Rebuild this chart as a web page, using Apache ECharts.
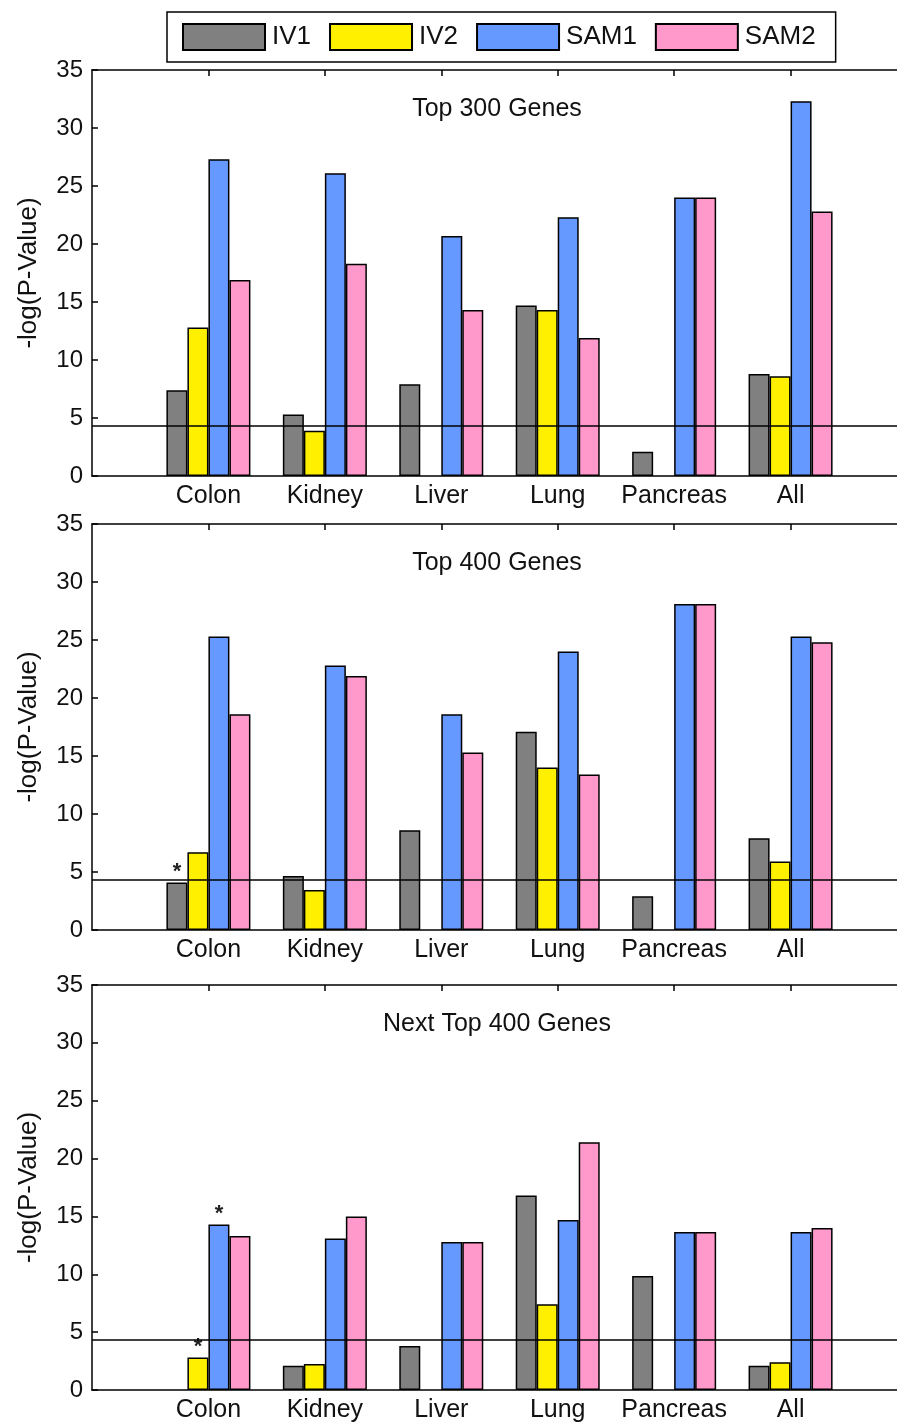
<!DOCTYPE html>
<html>
<head>
<meta charset="utf-8">
<script src="https://cdn.jsdelivr.net/npm/echarts@6/dist/echarts.min.js"></script>
<style>html,body{margin:0;padding:0;background:#fff}#c{width:897px;height:1427px}</style>
</head>
<body>
<div id="c"></div>
<script>
const categories = ['Colon', 'Kidney', 'Liver', 'Lung', 'Pancreas', 'All'];
const seriesNames = ['IV1', 'IV2', 'SAM1', 'SAM2'];
const yTicks = [0, 5, 10, 15, 20, 25, 30, 35];
const threshold = 4.3;
const panelTitles = ['Top 300 Genes', 'Top 400 Genes', 'Next Top 400 Genes'];

// Top 300 Genes
const top300_IV1  = [7.4, 5.3, 7.9, 14.7, 2.1, 8.8];
const top300_IV2  = [12.8, 3.9, 0, 14.3, 0, 8.6];
const top300_SAM1 = [27.3, 26.1, 20.7, 22.3, 24.0, 32.3];
const top300_SAM2 = [16.9, 18.3, 14.3, 11.9, 24.0, 22.8];

// Top 400 Genes
const top400_IV1  = [4.1, 4.65, 8.6, 17.1, 2.9, 7.9];
const top400_IV2  = [6.7, 3.45, 0, 14.0, 0, 5.9];
const top400_SAM1 = [25.3, 22.8, 18.6, 24.0, 28.1, 25.3];
const top400_SAM2 = [18.6, 21.9, 15.3, 13.4, 28.1, 24.8];

// Next Top 400 Genes
const next400_IV1  = [0, 2.1, 3.8, 16.8, 9.85, 2.1];
const next400_IV2  = [2.8, 2.25, 0, 7.4, 0, 2.4];
const next400_SAM1 = [14.3, 13.1, 12.8, 14.7, 13.65, 13.65];
const next400_SAM2 = [13.3, 15.0, 12.8, 21.4, 13.65, 14.0];

// asterisk markers: [panel, series, category]
const starMarks = [[1, 0, 0], [2, 1, 0], [2, 2, 0]];

const colors = ['#808080', '#FFF000', '#6699FF', '#FF99CC'];
const panels = [
  [top300_IV1, top300_IV2, top300_SAM1, top300_SAM2],
  [top400_IV1, top400_IV2, top400_SAM1, top400_SAM2],
  [next400_IV1, next400_IV2, next400_SAM1, next400_SAM2]
];

const FONT = "'Liberation Sans', Arial, sans-serif";
const TXT = '#111';
const axisCats = [''].concat(categories, ['']);
const gridTops = [70, 524, 985];
const gridH = [406, 406, 405];

const grids = [], xAxes = [], yAxes = [], series = [], titles = [];
panels.forEach((panel, p) => {
  grids.push({left: 92, top: gridTops[p], height: gridH[p], width: 815,
    containLabel: false, outerBoundsMode: 'none'});
  xAxes.push({
    type: 'category', gridIndex: p, position: 'bottom', data: axisCats, boundaryGap: false,
    axisLine: {lineStyle: {color: '#000', width: 1.5}},
    axisTick: {show: false},
    axisLabel: {interval: 0, fontFamily: FONT, fontSize: 25, color: TXT, margin: 8},
    splitLine: {show: false}
  });
  xAxes.push({
    type: 'category', gridIndex: p, position: 'top', data: axisCats, boundaryGap: false,
    axisLine: {lineStyle: {color: '#000', width: 1.5}},
    axisTick: {show: true, inside: true, length: 6, lineStyle: {color: '#000', width: 1.5},
      interval: function (i, v) { return v !== ''; }},
    axisLabel: {show: false},
    splitLine: {show: false}
  });
  yAxes.push({
    type: 'value', gridIndex: p, min: 0, max: 35, interval: 5,
    name: '-log(P-Value)', nameLocation: 'middle', nameRotate: 90, nameGap: 50,
    nameTextStyle: {fontFamily: FONT, fontSize: 26, color: TXT},
    axisLine: {show: true, lineStyle: {color: '#000', width: 1.5}},
    axisTick: {show: true, inside: true, length: 6, lineStyle: {color: '#000', width: 1.5}},
    axisLabel: {fontFamily: FONT, fontSize: 24, color: TXT, margin: 9,
      formatter: function (v) { return yTicks.indexOf(v) >= 0 ? String(v) : ''; }},
    splitLine: {show: false}
  });
  titles.push({
    text: panelTitles[p], left: 492, top: gridTops[p] + 22, textAlign: 'center',
    textStyle: {fontFamily: FONT, fontSize: 25, fontWeight: 'normal', color: TXT}
  });
  panel.forEach((vals, s) => {
    const data = [null].concat(vals.map((v, c) => {
      const star = starMarks.some(m => m[0] === p && m[1] === s && m[2] === c);
      if (v === 0) return null;
      return star ? {value: v, label: {show: true, position: 'top', distance: 0, formatter: '*',
        fontFamily: FONT, fontSize: 22, fontWeight: 'bold', color: '#222'}} : v;
    }), [null]);
    const ser = {
      type: 'bar', name: seriesNames[s], xAxisIndex: 2 * p, yAxisIndex: p,
      data: data, barWidth: 21, barGap: '0%',
      itemStyle: {color: colors[s], borderColor: '#000', borderWidth: 1.5},
      emphasis: {disabled: true}, animation: false
    };
    if (s === 0) {
      ser.markLine = {
        silent: true, symbol: 'none', animation: false, z: 10,
        label: {show: false},
        lineStyle: {color: '#000', width: 1.5, type: 'solid'},
        data: [{yAxis: threshold}]
      };
    }
    series.push(ser);
  });
});

const chart = echarts.init(document.getElementById('c'), null, {renderer: 'canvas'});
chart.setOption({
  animation: false,
  backgroundColor: '#fff',
  title: titles,
  legend: {
    data: seriesNames, left: 167, top: 12, orient: 'horizontal',
    itemWidth: 82, itemHeight: 26, itemGap: 18, icon: 'rect',
    padding: [11, 20, 11, 15],
    borderColor: '#000', borderWidth: 1.5,
    textStyle: {fontFamily: FONT, fontSize: 26, color: TXT, padding: [0, 0, 0, 2]},
    selectedMode: false
  },
  grid: grids,
  xAxis: xAxes,
  yAxis: yAxes,
  series: series
});
</script>
</body>
</html>
